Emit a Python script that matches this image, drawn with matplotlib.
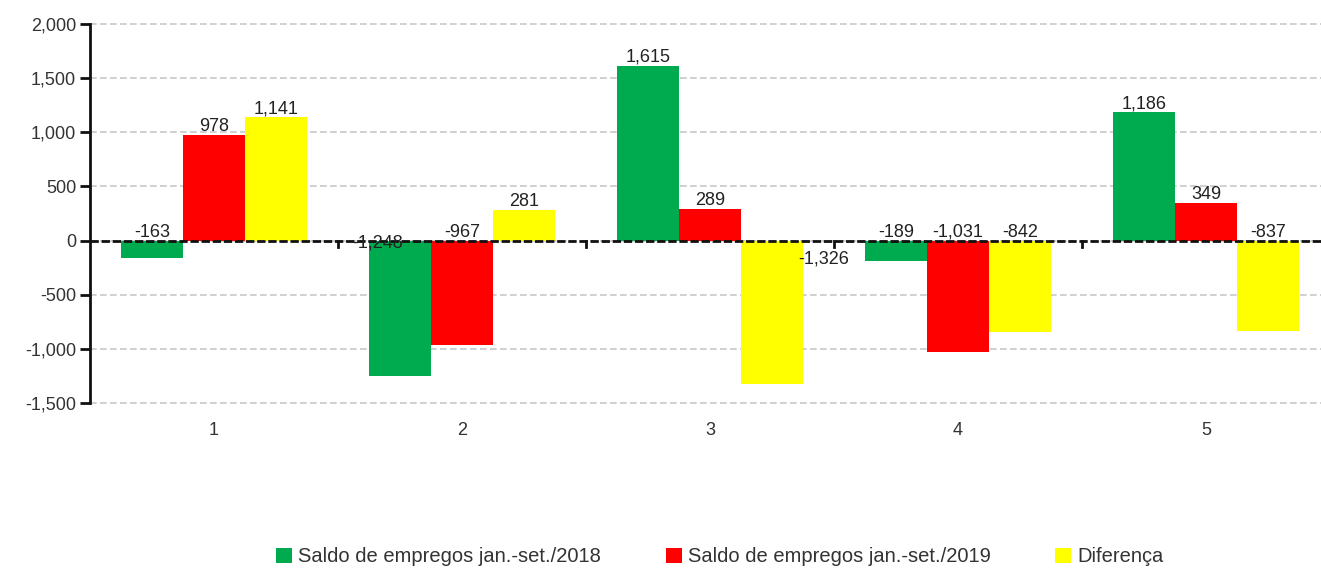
import numpy as np
import matplotlib.pyplot as plt

plt.rcParams['font.family'] = ['Liberation Sans', 'DejaVu Sans']

categories = ['1', '2', '3', '4', '5']
saldo_2018 = [-163, -1248, 1615, -189, 1186]
saldo_2019 = [978, -967, 289, -1031, 349]
diferenca = [1141, 281, -1326, -842, -837]
series_names = ['Saldo de empregos jan.-set./2018',
                'Saldo de empregos jan.-set./2019',
                'Diferença']
colors = ['#00AA4F', '#FF0000', '#FFFF00']

# label offsets (pixels) for labels the original moved to avoid collisions
special = {(0, 1): (-22, -2), (2, 2): (52, -18)}

fig = plt.figure(figsize=(13.21, 5.72), dpi=100)
ax = fig.add_axes([90 / 1321, 1 - 403 / 572, 1240 / 1321, 379 / 572])

x = np.arange(1, len(categories) + 1)
width = 0.25
series = [saldo_2018, saldo_2019, diferenca]
for i, (vals, name, c) in enumerate(zip(series, series_names, colors)):
    pos = x + (i - 1) * width
    ax.bar(pos, vals, width, color=c, label=name, zorder=2)
    for j, v in enumerate(vals):
        lab = f'{v:,}'
        if (i, j) in special:
            dx, dy = special[(i, j)]
            ax.annotate(lab, (pos[j], 0), xytext=(dx, dy), textcoords='offset pixels',
                        ha='center', va='center', fontsize=13, color='#222222', zorder=4)
        else:
            ax.annotate(lab, (pos[j], max(v, 0)), xytext=(0, 0), textcoords='offset pixels',
                        ha='center', va='bottom', fontsize=13, color='#222222', zorder=4)

ax.set_xlim(0.5, 5.5)
ax.set_ylim(-1500, 2000)
ax.set_yticks(np.arange(-1500, 2001, 500))
ax.yaxis.set_major_formatter(plt.FuncFormatter(lambda v, p: f'{int(v):,}'))
ax.tick_params(axis='y', length=7, width=2, color='#111111', labelsize=13,
               labelcolor='#333333', pad=3)
ax.grid(axis='y', color='#c8c8c8', linestyle=(0, (4, 2)), linewidth=1.2, zorder=0)
for gl in ax.get_ygridlines():
    gl.set_clip_on(False)

# zero line with category boundary ticks
ax.axhline(0, color='#111111', linewidth=2, linestyle=(0, (3, 1)), zorder=3)
for b in x[:-1] + 0.5:
    ax.plot([b, b], [0, -60], color='#111111', linewidth=2, zorder=3)

ax.set_xticks(x)
ax.set_xticklabels(categories)
ax.tick_params(axis='x', length=0, labelsize=13, labelcolor='#333333', pad=14)

for s in ['top', 'right', 'bottom']:
    ax.spines[s].set_visible(False)
ax.spines['left'].set_linewidth(2)
ax.spines['left'].set_color('#111111')

fig.legend(loc='lower center', bbox_to_anchor=(0.545, -0.022), ncol=3, frameon=False,
           fontsize=14.5, handlelength=0.8, handleheight=0.8, handletextpad=0.3,
           columnspacing=3.2, labelcolor='#333333')

fig.savefig('out.png', dpi=100)
